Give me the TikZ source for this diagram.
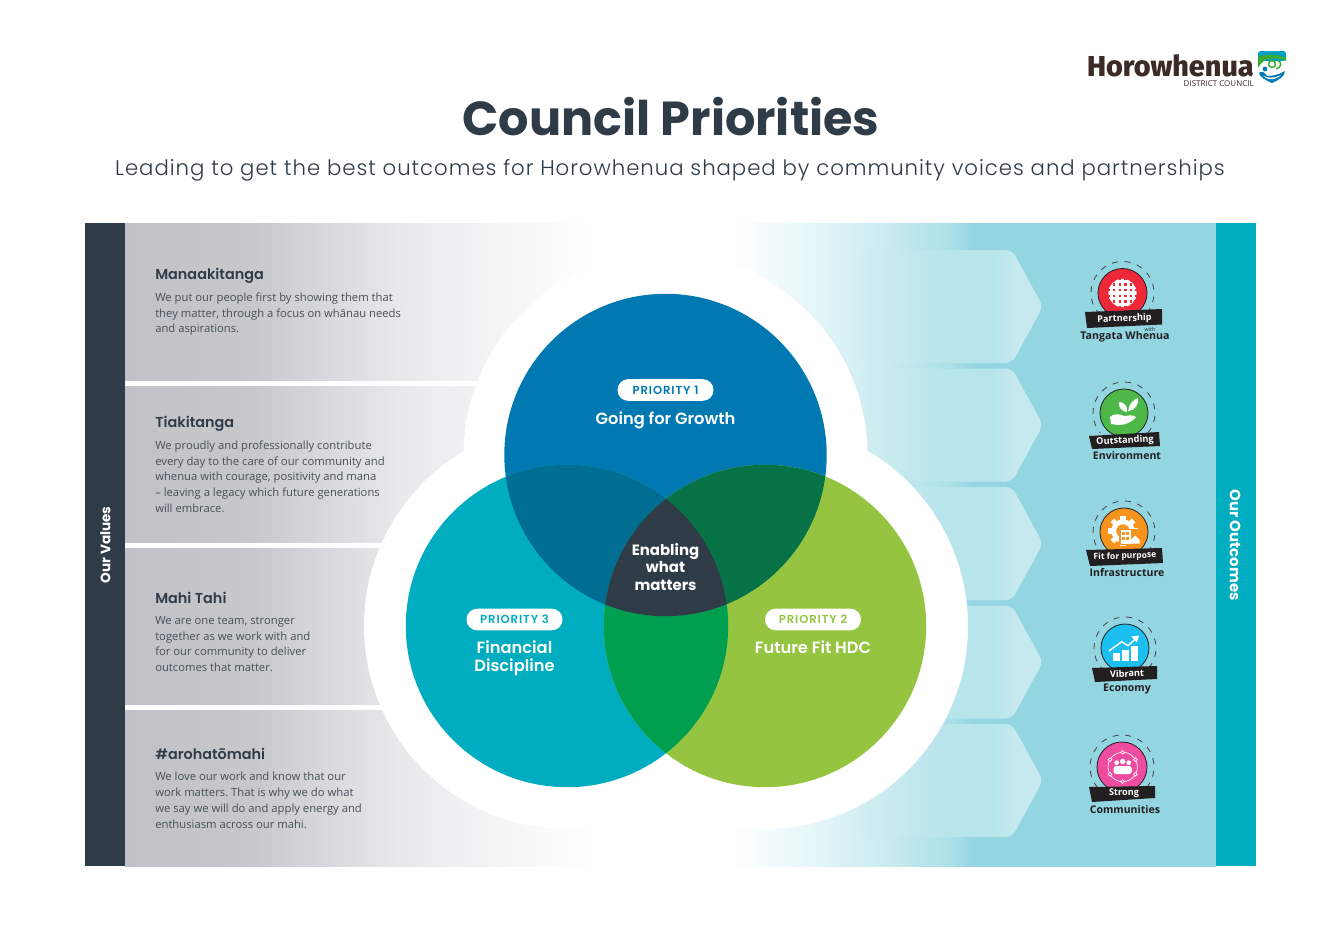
\documentclass[tikz,border=0pt]{standalone}
\usepackage{fontspec}
\usetikzlibrary{calc}
\setmainfont{Open Sans}
\newfontfamily\popb{Poppins Bold}
\newfontfamily\pops{Poppins SemiBold}
\newfontfamily\popl[LetterSpace=4.5]{Poppins Light}
\newfontfamily\popsp[LetterSpace=8]{Poppins SemiBold}
\newfontfamily\logof{Fira Sans ExtraBold}
\definecolor{cdark}{HTML}{2F3C47}
\definecolor{cblue}{HTML}{0079B3}
\definecolor{cteal}{HTML}{00ACBF}
\definecolor{cgreen}{HTML}{95C441}
\definecolor{cbt}{HTML}{006E92}
\definecolor{cbg}{HTML}{087247}
\definecolor{ctg}{HTML}{009F50}
\definecolor{gA}{HTML}{C1C2C7}
\definecolor{gB}{HTML}{C7C8CC}
\definecolor{gC}{HTML}{E8E9EB}
\definecolor{tA}{HTML}{93D6E2}
\definecolor{tB}{HTML}{EAF8FA}
\definecolor{tC}{HTML}{CCECF1}
\definecolor{tD}{HTML}{ADE0E8}
\definecolor{pA}{HTML}{D2EEF2}
\definecolor{pB}{HTML}{B8E5EB}
\definecolor{pC}{HTML}{C6E9EE}
\definecolor{logoc}{HTML}{3B2A26}
\definecolor{ink}{HTML}{231F20}
\definecolor{bred}{HTML}{ED2939}
\definecolor{bgreen}{HTML}{4DB848}
\definecolor{borange}{HTML}{F7941D}
\definecolor{bcyan}{HTML}{1CBFF0}
\definecolor{bpink}{HTML}{EE4C9E}
\definecolor{lgreen}{HTML}{3DA935}
\definecolor{ltop}{HTML}{00A0C6}
% the path's box covers 25bp..75bp of the shading
\pgfdeclarehorizontalshading{grayfade}{100bp}{color(0bp)=(gA); color(25bp)=(gA); color(38.5bp)=(gB); color(54.5bp)=(gC); color(75bp)=(white); color(100bp)=(white)}
\pgfdeclarehorizontalshading{tealfade}{100bp}{color(0bp)=(white); color(25bp)=(white); color(32bp)=(tB); color(40.5bp)=(tC); color(47.5bp)=(tD); color(50bp)=(tA); color(100bp)=(tA)}
\pgfdeclarehorizontalshading{penta}{100bp}{color(0bp)=(pA); color(25bp)=(pA); color(47bp)=(pB); color(62bp)=(pB); color(67.5bp)=(pC); color(100bp)=(pC)}
\tikzset{
  x=0.75pt,y=-0.75pt,
  headtext/.style={font=\pops\fontsize{10.8}{13}\selectfont,text=cdark,anchor=base west,inner sep=0pt},
  bodytext/.style={font=\frenchspacing\fontsize{8.45}{11.8}\selectfont,text=cdark!90,anchor=north west,align=left,inner sep=0pt},
  pill/.style={fill=white,rounded corners=8pt,minimum width=72pt,minimum height=16.2pt,inner sep=0pt,font=\popsp\fontsize{8.7}{10}\selectfont},
  prio/.style={text=white,font=\pops\fontsize{12.2}{13.5}\selectfont,align=center,inner sep=0pt},
  sidelabel/.style={text=white,font=\popb\fontsize{10.2}{12}\selectfont,inner sep=0pt},
  bannertext/.style={text=white,font=\bfseries\fontsize{6.9}{8}\selectfont,inner sep=0pt},
  badgecap/.style={text=ink,font=\fontsize{7.9}{9}\selectfont\bfseries,inner sep=0pt},
  banner/.style={fill=ink},
  dashring/.style={draw=ink!85,line width=.6pt,dash pattern=on 4.5pt off 5pt},
  sepline/.style={fill=white},
  arrowband/.style={shading=penta,rounded corners=5pt},
}
\newcommand{\badgebase}[4]{% cx cy r colour
  \draw[dashring] ({#1+(#3+7)*cos(-40)},{#2-(#3+7)*sin(-40)}) arc[start angle=-40,end angle=220,radius={(#3+7)*0.75pt}];
  \fill[#4,draw=ink,line width=.6pt] (#1,#2) circle[radius={#3*0.75pt}];
}
\begin{document}
\begin{tikzpicture}
\useasboundingbox (0,0) rectangle (1340,947);
\fill[white] (0,0) rectangle (1340,947);
% backgrounds
\shade[shading=grayfade] (125,223) rectangle (592,866);
\shade[shading=tealfade] (730,223) rectangle (1216,866);
\fill[sepline] (125,380.5) rectangle (600,385.5);
\fill[sepline] (125,543) rectangle (600,547.5);
\fill[sepline] (125,705) rectangle (600,709.5);
\fill[cdark] (85,223) rectangle (125,866);
\fill[cteal] (1216,223) rectangle (1256,866);
% arrows
\foreach \t in {250,368.5,487,605.5,724}{
  \shade[arrowband] (860,\t) -- (1012,\t) -- (1043,\t+56.5) -- (1012,\t+113) -- (860,\t+113) -- cycle;
}
% halo
\fill[white] (665.5,455) circle[radius=151.5pt];
\fill[white] (567,626) circle[radius=152.25pt];
\fill[white] (765,626) circle[radius=152.25pt];
% venn
\fill[cblue] (665.5,455) circle[radius=120.9pt];
\fill[cteal] (567,626) circle[radius=120.9pt];
\fill[cgreen] (765,626) circle[radius=120.9pt];
\begin{scope}
  \clip (665.5,455) circle[radius=120.9pt];
  \fill[cbt] (567,626) circle[radius=120.9pt];
  \fill[cbg] (765,626) circle[radius=120.9pt];
\end{scope}
\begin{scope}
  \clip (567,626) circle[radius=120.9pt];
  \fill[ctg] (765,626) circle[radius=120.9pt];
  \clip (765,626) circle[radius=120.9pt];
  \fill[cdark] (665.5,455) circle[radius=120.9pt];
\end{scope}
% title
\node[font=\popb\fontsize{35.8}{40}\selectfont,text=cdark,inner sep=0pt] (title) at (671,116.5) {Council Priorities};
\node[font=\popl\fontsize{15.95}{18}\selectfont,text=cdark,inner sep=0pt] (subtitle) at (670,170) {Leading to get the best outcomes for Horowhenua shaped by community voices and partnerships};
% logo
\node[font=\logof\fontsize{21.6}{24}\selectfont,text=logoc,anchor=base east,inner sep=0pt] (logotext) at (1254,76) {Horowhenua};
\node[font=\fontsize{6}{6}\selectfont,text=logoc,anchor=base east,inner sep=0pt] (logosub) at (1254,86) {DISTRICT COUNCIL};
\fill[ltop,rounded corners=2pt] (1258,51) rectangle (1286,61);
\fill[lgreen] (1258,57) .. controls (1266,53) and (1278,54) .. (1286,58) -- (1286,61) .. controls (1279,57) and (1268,58) .. (1264,61) .. controls (1261,63) and (1259,66) .. (1258,68) -- cycle;
\draw[lgreen,line width=1.1pt] (1272,64) circle[radius=2.6pt];
\draw[lgreen,line width=1.1pt] (1277,60) .. controls (1283,62) and (1281,68) .. (1276,69);
\fill[cblue] (1259,73) .. controls (1262,70) and (1265,73) .. (1267,76) .. controls (1271,76) and (1279,75) .. (1285,71) .. controls (1285,76) and (1279,80) .. (1272,83) .. controls (1265,80) and (1260,77) .. (1259,73) -- cycle;
\fill[white] (1263,75.5) .. controls (1266,78) and (1275,79) .. (1281,75) .. controls (1276,80.5) and (1266,80.5) .. (1263,75.5) -- cycle;
\fill[cblue] (1265,69) circle[radius=1.8pt];
% side labels
\node[sidelabel,rotate=90] (ourvalues) at (105.5,545) {Our Values};
\node[sidelabel,font=\popb\fontsize{11.2}{12}\selectfont,rotate=-90] (ouroutcomes) at (1235,545) {Our Outcomes};
% values
\node[headtext] (h1) at (155,279) {Manaakitanga};
\node[bodytext] (b1) at (155,292.5) {We put our people first by showing them that\\they matter, through a focus on whānau needs\\and aspirations.};
\node[headtext] (h2) at (155,427) {Tiakitanga};
\node[bodytext] (b2) at (155,440.5) {We proudly and professionally contribute\\every day to the care of our community and\\whenua with courage, positivity and mana\\– leaving a legacy which future generations\\will embrace.};
\node[headtext] (h3) at (155,603) {Mahi Tahi};
\node[bodytext] (b3) at (155,616) {We are one team, stronger\\together as we work with and\\for our community to deliver\\outcomes that matter.};
\node[headtext] (h4) at (155,759) {\#arohatōmahi};
\node[bodytext] (b4) at (155,772) {We love our work and know that our\\work matters. That is why we do what\\we say we will do and apply energy and\\enthusiasm across our mahi.};
% priorities
\node[pill,text=cblue] (p1) at (665.5,390) {PRIORITY 1};
\node[prio] (l1) at (665.5,420) {Going for Growth};
\node[pill,text=cteal] (p3) at (514.5,619.5) {PRIORITY 3};
\node[prio] (l3) at (514.5,658) {Financial\\Discipline};
\node[pill,text=cgreen] (p2) at (813,619.5) {PRIORITY 2};
\node[prio] (l2) at (813,647.5) {Future Fit HDC};
\node[prio,font=\popb\fontsize{11.2}{13}\selectfont] (l0) at (665.5,567) {Enabling\\what\\matters};
% badge 1
\badgebase{1122.5}{293}{24.5}{bred}
\begin{scope}
  \clip (1122.5,293) circle[radius=10.6pt];
  \foreach \d in {-11.2,-5.6,0,5.6,11.2}{
    \fill[white] (1122.5+\d-1.6,275) rectangle (1122.5+\d+1.6,311);
    \fill[white] (1104,293+\d-1.6) rectangle (1141,293+\d+1.6);
  }
  \foreach \d in {-8.4,-2.8,2.8,8.4}{
    \foreach \e in {-8.4,-2.8,2.8,8.4}{
      \fill[bred] (1122.5+\d-.9,293+\e-.9) rectangle (1122.5+\d+.9,293+\e+.9);
    }
  }
\end{scope}
\fill[banner] (1085,312) -- (1162,309) -- (1162,324.5) -- (1087,328) -- cycle;
\node[bannertext,rotate=2] (t1) at (1124.5,319) {Partnership};
\node[font=\fontsize{4}{5}\selectfont,text=ink,inner sep=0pt] (t1w) at (1150,329) {with};
\node[badgecap,font=\fontsize{8}{10}\selectfont\bfseries] (c1) at (1125,337) {Tangata Whenua};
% badge 2
\badgebase{1124}{413}{24}{bgreen}
\fill[white] (1110,417) .. controls (1114,413) and (1120,414) .. (1124,416) .. controls (1128,416) and (1132,414) .. (1136,417) .. controls (1132,422) and (1126,425) .. (1118,425) -- (1111,424) -- cycle;
\fill[white] (1127,412) .. controls (1120,411) and (1118,405) .. (1119,402) .. controls (1124,402) and (1128,406) .. (1127,412) -- cycle;
\fill[white] (1128,411) .. controls (1129,404) and (1133,400) .. (1138,398) .. controls (1139,404) and (1135,411) .. (1128,411) -- cycle;
\fill[banner] (1089,436) -- (1159,432) -- (1160,446) -- (1092,449) -- cycle;
\node[bannertext,rotate=3] (t2) at (1125,441) {Outstanding};
\node[badgecap] (c2) at (1127,456) {Environment};
% badge 3
\badgebase{1124}{532}{24}{borange}
\foreach \a in {0,45,...,315}{
  \fill[white,shift={(1123,531)},rotate=\a] (-2.6,-15) rectangle (2.6,-10);
}
\fill[white] (1123,531) circle[radius=8.8pt];
\fill[borange] (1123,531) circle[radius=5pt];
\fill[borange] (1119,528.5) rectangle (1141,545);
\fill[white] (1120.7,530) rectangle (1130.7,543.5);
\fill[white] (1130.7,540) -- (1135,535.5) -- (1139.5,540) -- (1139.5,543.5) -- (1130.7,543.5) -- cycle;
\foreach \p/\q in {1122.2/532,1126.2/532,1122.2/537,1126.2/537}{\fill[borange] (\p,\q) rectangle (\p+2.6,\q+3);}
\fill[banner] (1086,550) -- (1162,548) -- (1163,563) -- (1090,566) -- cycle;
\node[bannertext,font=\bfseries\fontsize{6.4}{8}\selectfont,rotate=2] (t3) at (1125,556.5) {Fit for purpose};
\node[badgecap] (c3) at (1127,573) {Infrastructure};
% badge 4
\badgebase{1125}{648}{24}{bcyan}
\fill[white] (1113,653) rectangle (1120,661);
\fill[white] (1122,650) rectangle (1129,661);
\fill[white] (1131,646) rectangle (1138,661);
\draw[white,line width=1.1pt] (1109,651) -- (1121.7,641.7) -- (1128,645.7) -- (1136,638.5);
\fill[white] (1139,635.5) -- (1131,636.5) -- (1137,642.5) -- cycle;
\fill[banner] (1092,668) -- (1157,666) -- (1157,679) -- (1095,682) -- cycle;
\node[bannertext,rotate=2] (t4) at (1127,673.5) {Vibrant};
\node[badgecap] (c4) at (1127,689) {Economy};
% badge 5
\badgebase{1122}{767}{25}{bpink}
\draw[white,line width=.5pt] (1122.7,767) circle[radius=11pt];
\foreach \a in {30,90,150,210,270,330}{
  \fill[bpink,draw=white,line width=.5pt] ($(1122.7,767)+(\a:11pt)$) circle[radius=1.4pt];
}
\fill[white] (1116.7,762.7) circle[radius=1.8pt];
\fill[white] (1122.7,761.5) circle[radius=2pt];
\fill[white] (1128.7,762.7) circle[radius=1.8pt];
\fill[white,rounded corners=2pt] (1113.5,774) -- (1113.5,766) -- (1131.8,766) -- (1131.8,774) -- cycle;
\fill[banner] (1089,787) -- (1155,786) -- (1155,798) -- (1092,802) -- cycle;
\node[bannertext,rotate=1] (t5) at (1124,793.5) {Strong};
\node[badgecap] (c5) at (1125,810) {Communities};
\end{tikzpicture}
\end{document}
